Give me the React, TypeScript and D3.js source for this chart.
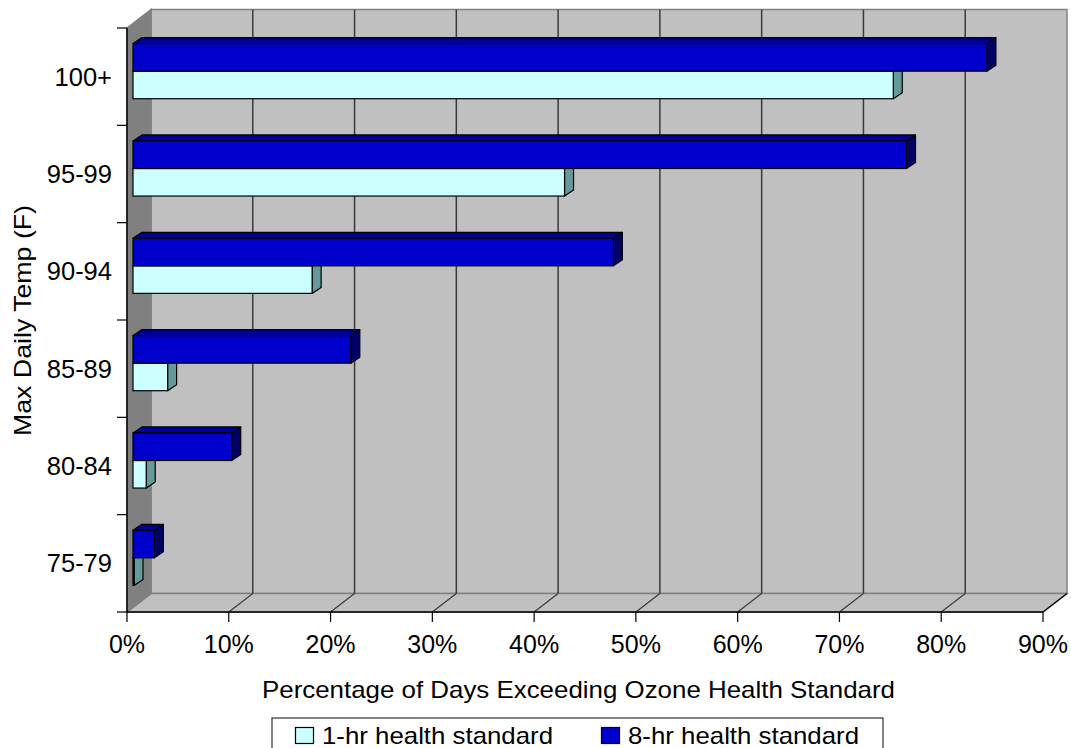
import React from "react";
import * as d3 from "d3";

const categories = ["75-79", "80-84", "85-89", "90-94", "95-99", "100+"];
const oneHr = [0.1, 1.3, 3.4, 17.6, 42.4, 74.7];
const eightHr = [2.1, 9.7, 21.4, 47.2, 76.0, 83.9];
const xTicks = [0, 10, 20, 30, 40, 50, 60, 70, 80, 90];
const seriesNames = ["1-hr health standard", "8-hr health standard"];

const W = 1071;
const H = 748;
const FONT = "'Liberation Sans', Arial, sans-serif";

// 3D geometry
const DEPTH_X = 24;
const DEPTH_Y = -18.5;
const BAR_SHIFT_X = 6;
const BAR_SHIFT_Y = -5.5;
const BAR_DX = 9;
const BAR_DY = -6;

const COLORS = {
  wall: "#C0C0C0",
  side: "#808080",
  floor: "#C0C0C0",
  edge: "#808080",
  grid: "#3a3a3a",
  lightFront: "#CCFFFF",
  lightSide: "#669999",
  lightTop: "#99CCCC",
  blueFront: "#0000CC",
  blueTop: "#000099",
  blueSide: "#000066",
};

function box(x0: number, x1: number, y0: number, y1: number, front: string, top: string, side: string, key: string) {
  const pts = (arr: number[][]) => arr.map((p) => p.join(",")).join(" ");
  return (
    <g key={key}>
      <polygon
        points={pts([[x0, y0], [x0 + BAR_DX, y0 + BAR_DY], [x1 + BAR_DX, y0 + BAR_DY], [x1, y0]])}
        fill={top}
        stroke="#000"
        strokeWidth={1.2}
        strokeLinejoin="round"
      />
      <polygon
        points={pts([[x1, y0], [x1 + BAR_DX, y0 + BAR_DY], [x1 + BAR_DX, y1 + BAR_DY], [x1, y1]])}
        fill={side}
        stroke="#000"
        strokeWidth={1.2}
        strokeLinejoin="round"
      />
      <rect x={x0} y={y0} width={Math.max(0, x1 - x0)} height={y1 - y0} fill={front} stroke="#000" strokeWidth={1.2} />
    </g>
  );
}

export default function App() {
  const x = d3.scaleLinear().domain([0, 90]).range([127, 1043]);
  const y = d3
    .scaleBand<string>()
    .domain([...categories].reverse())
    .range([28, 612])
    .paddingInner(0)
    .paddingOuter(0);
  const bw = y.bandwidth();
  const barH = bw * 0.283;

  const x0 = x(0);
  const x90 = x(90);
  const yTop = 28;
  const yBot = 612;

  const bars: React.ReactNode[] = [];
  categories.forEach((c, i) => {
    const center = (y(c) as number) + bw / 2;
    const xs = x(0) + BAR_SHIFT_X;
    bars.push(
      box(
        xs,
        x(oneHr[i]) + BAR_SHIFT_X,
        center + BAR_SHIFT_Y,
        center + barH + BAR_SHIFT_Y,
        COLORS.lightFront,
        COLORS.lightTop,
        COLORS.lightSide,
        "a" + i
      )
    );
    bars.push(
      box(
        xs,
        x(eightHr[i]) + BAR_SHIFT_X,
        center - barH + BAR_SHIFT_Y,
        center + BAR_SHIFT_Y,
        COLORS.blueFront,
        COLORS.blueTop,
        COLORS.blueSide,
        "b" + i
      )
    );
  });

  return (
    <svg
      width={W}
      height={H}
      style={{ position: "absolute", left: 0, top: 0, background: "#fff" }}
      fontFamily={FONT}
    >
      <rect
        x={x0 + DEPTH_X}
        y={yTop + DEPTH_Y}
        width={x90 - x0}
        height={yBot - yTop}
        fill={COLORS.wall}
        stroke={COLORS.edge}
        strokeWidth={1.5}
      />
      <polygon
        points={`${x0},${yBot} ${x90},${yBot} ${x90 + DEPTH_X},${yBot + DEPTH_Y} ${x0 + DEPTH_X},${yBot + DEPTH_Y}`}
        fill={COLORS.floor}
        stroke={COLORS.edge}
        strokeWidth={1.5}
      />
      <polygon
        points={`${x0},${yTop} ${x0 + DEPTH_X},${yTop + DEPTH_Y} ${x0 + DEPTH_X},${yBot + DEPTH_Y} ${x0},${yBot}`}
        fill={COLORS.side}
        stroke={COLORS.edge}
        strokeWidth={1.5}
      />
      {xTicks.slice(1, -1).map((t) => (
        <g key={"g" + t}>
          <line
            x1={x(t) + DEPTH_X}
            x2={x(t) + DEPTH_X}
            y1={yTop + DEPTH_Y}
            y2={yBot + DEPTH_Y}
            stroke={COLORS.grid}
            strokeWidth={1.5}
          />
          <line
            x1={x(t)}
            x2={x(t) + DEPTH_X}
            y1={yBot}
            y2={yBot + DEPTH_Y}
            stroke={COLORS.grid}
            strokeWidth={1.2}
          />
        </g>
      ))}
      <line x1={x90} x2={x90 + DEPTH_X} y1={yBot} y2={yBot + DEPTH_Y} stroke="#000" strokeWidth={1.2} />

      {bars}

      <line x1={x0} x2={x90} y1={yBot} y2={yBot} stroke="#000" strokeWidth={1.5} />
      <line x1={x0} x2={x0} y1={yTop} y2={yBot} stroke="#000" strokeWidth={1.5} />
      {xTicks.map((t) => (
        <g key={"xt" + t}>
          <line x1={x(t)} x2={x(t)} y1={yBot} y2={yBot + 10} stroke="#000" strokeWidth={1.2} />
          <text x={x(t)} y={653} textAnchor="middle" fontSize={25} fill="#000">
            {t}%
          </text>
        </g>
      ))}
      {[...categories.map((c) => y(c) as number), yBot].map((yy, i) => (
        <line key={"yt" + i} x1={x0 - 10} x2={x0} y1={yy} y2={yy} stroke="#000" strokeWidth={1.2} />
      ))}
      {categories.map((c) => (
        <text
          key={"yl" + c}
          x={112}
          y={(y(c) as number) + bw / 2 + 9}
          textAnchor="end"
          fontSize={25.5}
          fill="#000"
        >
          {c}
        </text>
      ))}

      <text
        x={578.5}
        y={698}
        textAnchor="middle"
        fontSize={24}
        fill="#000"
        textLength={633}
        lengthAdjust="spacingAndGlyphs"
      >
        Percentage of Days Exceeding Ozone Health Standard
      </text>
      <text
        transform={`translate(30.5,320.5) rotate(-90)`}
        textAnchor="middle"
        fontSize={24}
        fill="#000"
        textLength={231}
        lengthAdjust="spacingAndGlyphs"
      >
        Max Daily Temp (F)
      </text>

      <rect x={272} y={718} width={611} height={50} fill="#fff" stroke="#333" strokeWidth={1.2} />
      <rect x={295.5} y={727.5} width={18} height={16} fill={COLORS.lightFront} stroke="#000" strokeWidth={1.2} />
      <text x={322} y={744} fontSize={24} fill="#000" textLength={231} lengthAdjust="spacingAndGlyphs">
        {seriesNames[0]}
      </text>
      <rect x={601.5} y={727.5} width={18} height={16} fill={COLORS.blueFront} stroke="#000" strokeWidth={1.2} />
      <text x={628} y={744} fontSize={24} fill="#000" textLength={231} lengthAdjust="spacingAndGlyphs">
        {seriesNames[1]}
      </text>
    </svg>
  );
}
